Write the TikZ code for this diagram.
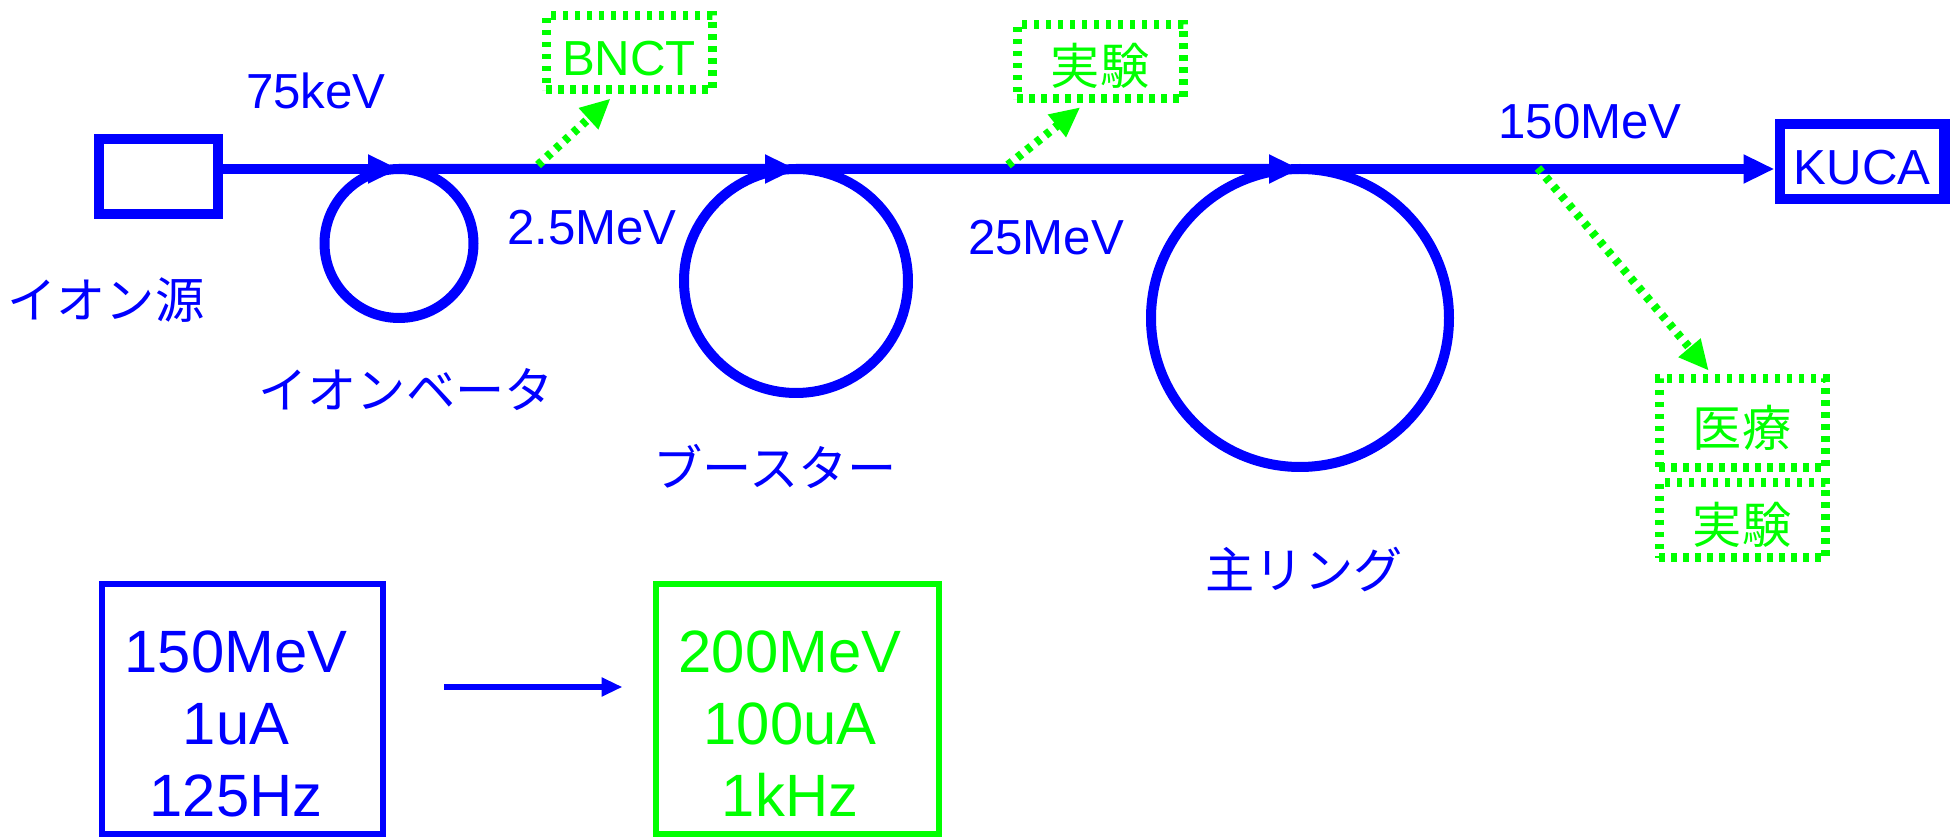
\documentclass[tikz,border=0pt]{standalone}
\usepackage{fontspec}
\setmainfont{Liberation Sans}
\newfontfamily\jpfont{Noto Sans CJK JP}
\usetikzlibrary{arrows.meta,positioning}
\definecolor{BeamBlue}{HTML}{0000FF}
\definecolor{UseGreen}{HTML}{00FF00}

\begin{document}
\begin{tikzpicture}[
  x=0.1mm,y=-0.1mm,
  every node/.style={font=\fontsize{14}{17}\selectfont},
  jp/.style={font=\fontsize{14}{17}\selectfont\jpfont},
  lab/.style={text=BeamBlue},
  ring/.style={circle,draw=BeamBlue,line width=1mm,inner sep=0pt,outer sep=0pt,minimum size=#1},
  beam/.style={draw=BeamBlue,line width=1mm,-{Triangle[length=3.1mm,width=2.7mm]}},
  boxtext/.style={text height=12.9pt,text depth=0pt,inner sep=0pt},
  usebox/.style={boxtext,draw=UseGreen,text=UseGreen,line width=0.9mm,
    dash pattern=on 0.55mm off 0.65mm,minimum width=16.6mm},
  usearrow/.style={draw=UseGreen,line width=0.85mm,dash pattern=on 0.55mm off 0.65mm,
    -{Triangle[length=3mm,width=2.7mm]}},
  spec/.style={anchor=north,inner sep=0pt,align=center,font=\fontsize{17}{20.5}\selectfont}
]
  \useasboundingbox (0,0) rectangle (1960,837);

  % beam line
  \node[draw=BeamBlue,line width=1mm,minimum width=11.9mm,minimum height=7.5mm] (src) at (158.5,176.5) {};
  \node[ring=14.9mm] (lin) at (399,243.5) {};
  \node[ring=22.4mm] (boo) at (796,281) {};
  \node[ring=29.8mm] (main) at (1300,318) {};
  \node[boxtext,draw=BeamBlue,text=BeamBlue,line width=1.05mm,minimum width=16.45mm,
        minimum height=7.5mm] (kuca) at (1862,161.5) {KUCA};

  \draw[beam] (src.east |- lin.north) -- (lin.north);
  \foreach \a/\b in {lin/boo,boo/main}
    \draw[beam] (\a.north) -- (\b.north);
  \draw[beam] (main.north) -- (main.north -| kuca.west);

  \foreach \nm/\px/\py/\txt in {e75/316/109/75keV,e2/592/245/2.5MeV,e25/1046/255/25MeV,e150/1590/139/150MeV}
    \node[lab,anchor=base] (\nm) at (\px,\py) {\txt};

  \node[lab,jp] (srclab) at (106,300) {イオン源};
  \node[lab,jp] (linlab) at (406,390) {イオンベータ};
  \node[lab,jp] (boolab) at (775,467) {ブースター};
  \node[lab,jp] (mainlab) at (1304,570) {主リング};

  % users
  \node[usebox,minimum height=7.4mm] (bnct) at (629,53) {BNCT};
  \node[usebox,jp,minimum height=7.4mm] (exp1) at (1100,62) {実験};
  \node[usebox,jp,minimum height=8.9mm] (med) at (1742,423.5) {医療};
  \node[usebox,jp,minimum height=7.5mm] (exp2) at (1742,520.5) {実験};

  \coordinate (tapB) at (538,165);
  \coordinate (tapE) at (1008,165);
  \coordinate (tapM) at (1538,168);
  \draw[usearrow,shorten >=0.6mm] (tapB) -- ([xshift=-1.4mm]bnct.south);
  \draw[usearrow,shorten >=0.6mm] (tapE) -- ([xshift=-1.5mm]exp1.south);
  \draw[usearrow,shorten >=0.5mm] (tapM) -- ([xshift=-3mm]med.north);

  % upgrade
  \node[draw=BeamBlue,line width=0.6mm,minimum width=28.1mm,minimum height=25mm] (now) at (242.5,709) {};
  \node[draw=UseGreen,line width=0.6mm,minimum width=28.3mm,minimum height=25mm] (goal) at (797,709) {};
  \node[spec,text=BeamBlue] (nowtxt) at (236,630) {150MeV\\1uA\\125Hz};
  \node[spec,text=UseGreen] (goaltxt) at (790,630) {200MeV\\100uA\\1kHz};
  \draw[BeamBlue,line width=0.6mm,-{Triangle[length=2.1mm,width=1.8mm]},shorten <=5.8mm,shorten >=3mm]
    ([yshift=2.2mm]now.east) -- ([yshift=2.2mm]goal.west);
\end{tikzpicture}
\end{document}
